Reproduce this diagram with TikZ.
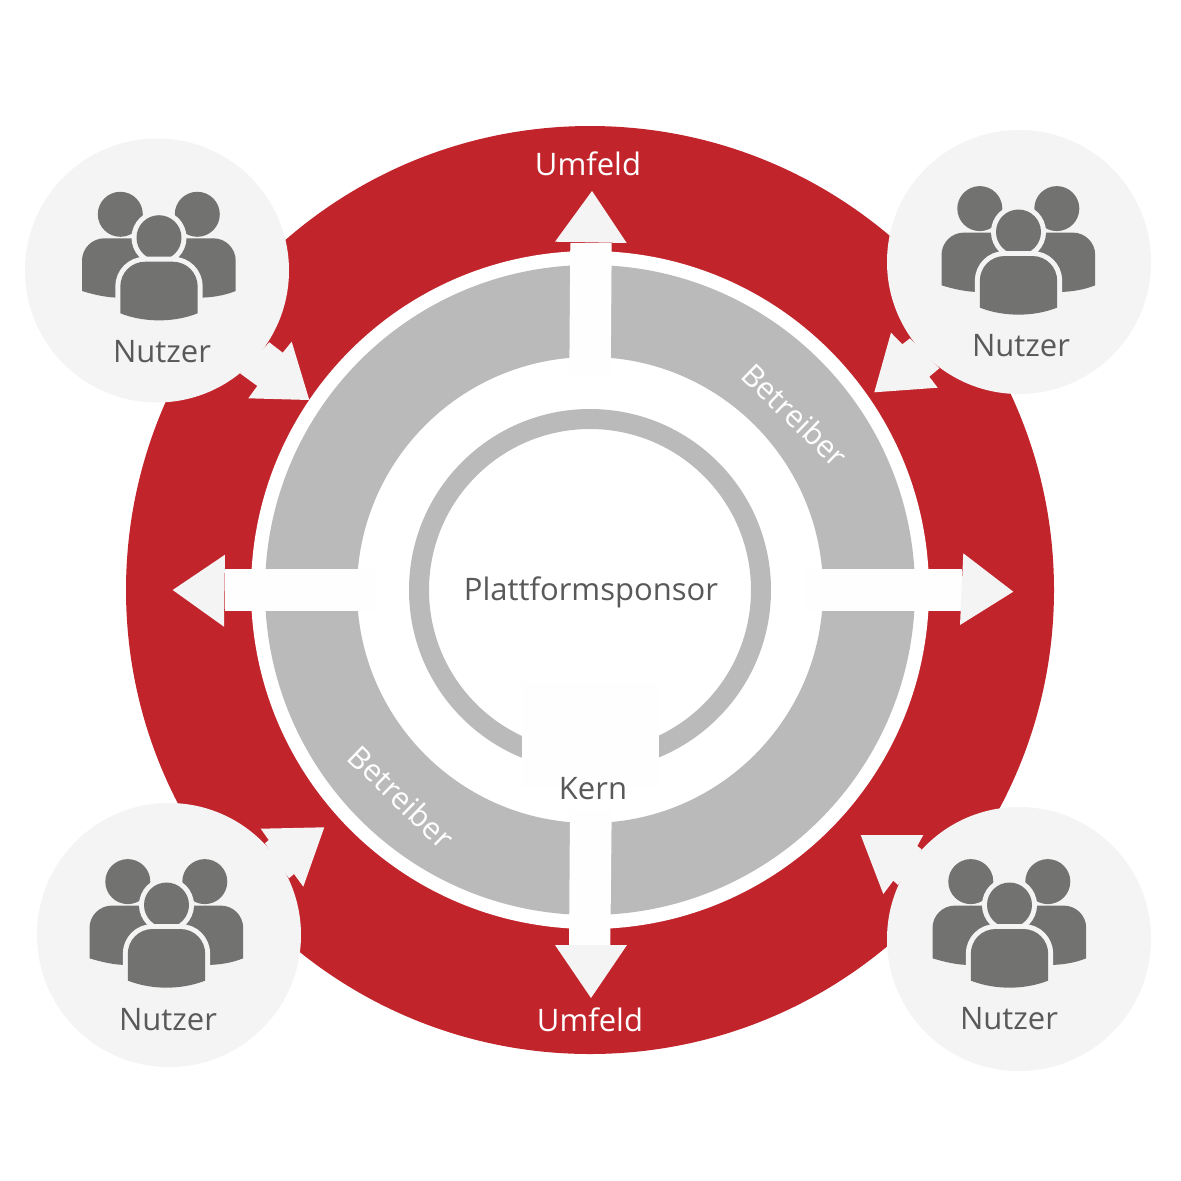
\documentclass[tikz,border=0pt]{standalone}
\usepackage{fontspec}
\setmainfont{Open Sans}
\definecolor{rd}{HTML}{C2242B}
\definecolor{gr}{HTML}{BABABA}
\definecolor{lt}{HTML}{F4F4F4}
\definecolor{ic}{HTML}{727271}
\definecolor{tx}{HTML}{595959}
\definecolor{wt}{HTML}{FEFEFE}
\tikzset{
  label text/.style={text=tx,font=\fontsize{31}{36}\selectfont,inner sep=0pt},
  white text/.style={text=white,font=\fontsize{31}{36}\selectfont,inner sep=0pt},
  small white/.style={text=white,font=\fontsize{30.5}{36}\selectfont,inner sep=0pt,rotate=-44},
  head tip/.style={fill=lt},
  shaft/.style={fill=wt},
}
\newcommand{\peopleicon}[2]{%
  \begin{scope}[shift={(#1,#2)}]
    \fill[ic] (-38.7,-23.4) circle (22.5pt);
    \fill[ic] (38.3,-23.4) circle (22.5pt);
    \fill[ic] (-77,53.3) -- (-77,23) .. controls (-77,10.6) and (-67,0.6) .. (-54.6,0.6)
      -- (54.3,0.6) .. controls (66.7,0.6) and (76.7,10.6) .. (76.7,23) -- (76.7,53.3)
      .. controls (65,58) and (52,60) .. (39,60) -- (-39,60)
      .. controls (-52,60) and (-65,57) .. (-77,53.3) -- cycle;
    \filldraw[draw=lt,line width=10pt,fill=ic] (0,0) circle (22.5pt);
    \fill[ic] (0,0) circle (22.5pt);
    \filldraw[draw=lt,line width=10pt,fill=ic,line join=round] (-38.7,75.6) -- (-38.7,49)
      .. controls (-38.7,35) and (-27.7,24) .. (-13.7,24) -- (13.7,24)
      .. controls (27.7,24) and (38.7,35) .. (38.7,49) -- (38.7,75.6)
      .. controls (15,85) and (-15,85) .. (-38.7,75.6) -- cycle;
    \fill[ic] (-38.7,75.6) -- (-38.7,49)
      .. controls (-38.7,35) and (-27.7,24) .. (-13.7,24) -- (13.7,24)
      .. controls (27.7,24) and (38.7,35) .. (38.7,49) -- (38.7,75.6)
      .. controls (15,85) and (-15,85) .. (-38.7,75.6) -- cycle;
  \end{scope}}
\begin{document}
\begin{tikzpicture}[x=1pt,y=-1pt]
\path[use as bounding box,fill=white] (0,0) rectangle (1181,1181);
% outer disk
\fill[rd] (590,590) circle (464pt);
% user arrows
\fill[head tip] (309.3,400) -- (291.7,341.7) -- (282.7,352.7) -- (269.3,342.3) -- (240,373.3) -- (257.3,386) -- (248.3,398.3) -- cycle;
\fill[head tip] (874.3,392.3) -- (891,332.7) -- (902.3,344.3) -- (910,338.3) -- (939.3,368.3) -- (929.3,376.7) -- (937.7,387.7) -- cycle;
\fill[head tip] (324.3,827.3) -- (260.7,828.7) -- (268.7,840) -- (265,843.3) -- (289,878.3) -- (294,874) -- (303.3,886.7) -- cycle;
\fill[head tip] (860.7,835) -- (923.3,835) -- (917.3,846) -- (921.7,849.3) -- (898,885) -- (893.3,880.7) -- (883.3,894) -- cycle;
% user circles
\fill[lt] (157,270.5) circle (132pt);
\fill[lt] (1019,262) circle (132pt);
\fill[lt] (169,935) circle (132pt);
\fill[lt] (1019,939) circle (132pt);
% rings
\fill[white] (590,590) circle (339pt);
\fill[gr,even odd rule] (590,590) circle (325pt) (590,590) circle (233pt);
\fill[gr,even odd rule] (590,590) circle (181pt) (590,590) circle (161pt);
% cross arrows
\fill[shaft] (570.3,243) -- (611.7,243) -- (610.7,375) -- (569.3,375) -- cycle;
\fill[shaft] (570,810) -- (611.7,810) -- (610.3,947) -- (569,947) -- cycle;
\fill[shaft] (225,569.3) -- (375,569.3) -- (375,611) -- (225,611) -- cycle;
\fill[shaft] (805,569.3) -- (962,569.3) -- (962,611) -- (805,611) -- cycle;
\fill[head tip] (592,191) -- (555,241.7) -- (626.7,243) -- cycle;
\fill[head tip] (591,998) -- (555,945) -- (627,945) -- cycle;
\fill[head tip] (172.7,590) -- (225,554.7) -- (224,626.7) -- cycle;
\fill[head tip] (1013.3,591.7) -- (963.3,553.3) -- (960,625) -- cycle;
% patch over the inner ring
\fill[wt] (521.7,681.7) rectangle (659,786.7);
% people
\peopleicon{159}{237.7}
\peopleicon{1018.5}{232}
\peopleicon{166.5}{905}
\peopleicon{1009.5}{905}
% labels
\node[label text] (nutzerA) at (162,352) {Nutzer};
\node[label text] (nutzerB) at (1021,346) {Nutzer};
\node[label text] (nutzerC) at (168,1020) {Nutzer};
\node[label text] (nutzerD) at (1009,1019) {Nutzer};
\node[label text] (sponsor) at (591,592.5) {Plattformsponsor};
\node[label text] (kern) at (593,789) {Kern};
\node[white text] (umfeldA) at (588,164) {Umfeld};
\node[white text] (umfeldB) at (590,1020) {Umfeld};
\node[small white] (betrA) at (795,415) {Betreiber};
\node[small white] (betrB) at (401.5,797) {Betreiber};
\end{tikzpicture}
\end{document}
